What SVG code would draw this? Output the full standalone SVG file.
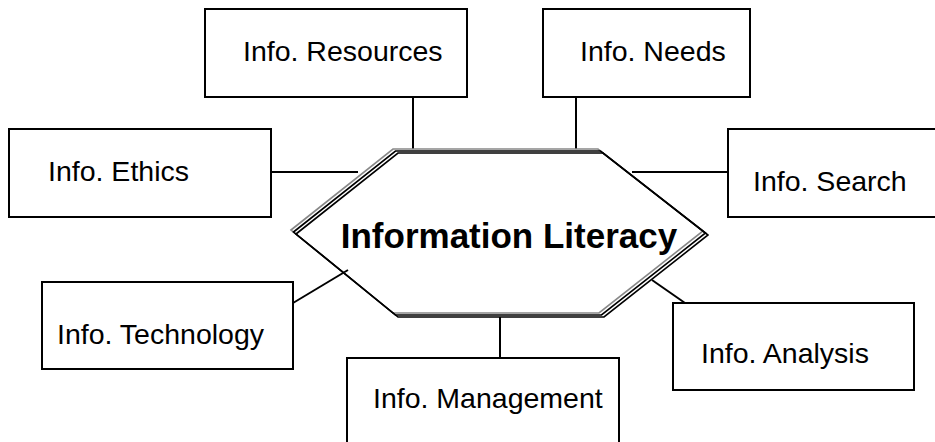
<svg xmlns="http://www.w3.org/2000/svg" width="935" height="442" viewBox="0 0 935 442">
<style>
.box{fill:#fff;stroke:#000;stroke-width:2}
.lbl{font-family:"Liberation Sans",Arial,sans-serif;font-size:28.5px;fill:#000}
.conn line{stroke:#000;stroke-width:2}
.hex{fill:none;stroke-width:1.6;stroke-linejoin:miter}
.title{font-family:"Liberation Sans",Arial,sans-serif;font-size:35px;font-weight:bold;fill:#000}
</style>
<rect width="935" height="442" fill="#fff"/>
<g id="connectors" class="conn">
<line x1="413" y1="97" x2="413" y2="149"/>
<line x1="576" y1="97" x2="576" y2="149"/>
<line x1="271" y1="172" x2="358" y2="172"/>
<line x1="632" y1="172" x2="728" y2="172"/>
<line x1="293" y1="303" x2="348" y2="270"/>
<line x1="500" y1="317" x2="500" y2="358"/>
<line x1="652" y1="280" x2="685" y2="303"/>
</g>
<g id="center">
<polygon class="hex" stroke="#888" points="291,230 393,149 598,149 703,231 599,313 393,313"/>
<polygon class="hex" stroke="#000" points="293.5,232 395.5,151 600.5,151 705.5,233 601.5,315 395.5,315"/>
<polygon class="hex" stroke="#000" points="296,234 398,153 603,153 708,235 604,317 398,317"/>
<text class="title" x="509" y="248" text-anchor="middle">Information Literacy</text>
</g>
<g id="resources"><rect class="box" x="205" y="9" width="262" height="88"/><text class="lbl" x="243" y="61">Info. Resources</text></g>
<g id="needs"><rect class="box" x="543" y="9" width="207" height="88"/><text class="lbl" x="580" y="61">Info. Needs</text></g>
<g id="ethics"><rect class="box" x="9" y="129" width="262" height="88"/><text class="lbl" x="48" y="181">Info. Ethics</text></g>
<g id="search"><rect class="box" x="728" y="129" width="215" height="88"/><text class="lbl" x="753" y="191">Info. Search</text></g>
<g id="technology"><rect class="box" x="42" y="282" width="251" height="87"/><text class="lbl" x="57" y="344">Info. Technology</text></g>
<g id="analysis"><rect class="box" x="673" y="303" width="241" height="87"/><text class="lbl" x="701" y="363">Info. Analysis</text></g>
<g id="management"><rect class="box" x="347" y="358" width="272" height="100"/><text class="lbl" x="373" y="408">Info. Management</text></g>
</svg>
